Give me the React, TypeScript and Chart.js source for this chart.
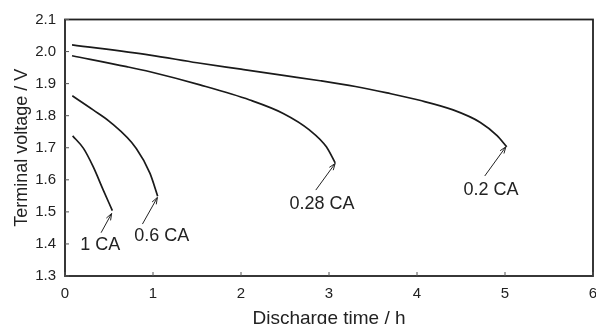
import React, { useEffect, useRef } from "react";
import { Chart, registerables } from "chart.js";

Chart.register(...registerables);

// Discharge curves: time (h) and terminal voltage (V)
const t1CA = [0.087, 0.21, 0.32, 0.435, 0.538];
const v1CA = [1.737, 1.698, 1.641, 1.568, 1.504];

const t06CA = [0.083, 0.32, 0.51, 0.81, 0.966, 1.053];
const v06CA = [1.862, 1.818, 1.781, 1.698, 1.62, 1.549];

const t028CA = [0.08, 0.7, 0.966, 1.534, 2.1, 2.48, 2.78, 2.97, 3.07];
const v028CA = [1.987, 1.953, 1.937, 1.896, 1.849, 1.807, 1.755, 1.703, 1.653];

const t02CA = [0.08, 0.966, 1.5, 2.0, 2.5, 2.9, 3.3, 3.66, 4.03, 4.41, 4.72, 4.91, 5.02];
const v02CA = [2.021, 1.989, 1.965, 1.945, 1.925, 1.909, 1.891, 1.871, 1.848, 1.818, 1.779, 1.738, 1.703];

const seriesLabels = ["1 CA", "0.6 CA", "0.28 CA", "0.2 CA"];

// Annotation label centres and arrow start/end (data units)
const labelT = [0.4, 1.1, 2.92, 4.84];
const labelV = [1.4, 1.428, 1.529, 1.573];
const arrowFromT = [0.41, 0.88, 2.85, 4.77];
const arrowFromV = [1.435, 1.462, 1.568, 1.612];
const arrowToT = [0.53, 1.05, 3.07, 5.01];
const arrowToV = [1.495, 1.545, 1.651, 1.703];

const xTicks = [0, 1, 2, 3, 4, 5, 6];
const yTicks = [1.3, 1.4, 1.5, 1.6, 1.7, 1.8, 1.9, 2.0, 2.1];

const FONT = "'Liberation Sans', Arial, sans-serif";
const INK = "#222";

const zip = (xs: number[], ys: number[]) => xs.map((x, i) => ({ x, y: ys[i] }));

const framePlugin = {
  id: "frameAndAnnotations",
  afterDatasetsDraw(chart: any) {
    const { ctx, chartArea: a, scales } = chart;
    const xs = scales.x;
    const ys = scales.y;
    ctx.save();
    // frame
    ctx.strokeStyle = INK;
    ctx.lineWidth = 1.8;
    ctx.strokeRect(a.left, a.top, a.right - a.left, a.bottom - a.top);
    // inward ticks
    ctx.lineWidth = 1;
    ctx.strokeStyle = "#555";
    xTicks.forEach((v) => {
      const px = xs.getPixelForValue(v);
      ctx.beginPath();
      ctx.moveTo(px, a.bottom);
      ctx.lineTo(px, a.bottom - 4);
      ctx.stroke();
    });
    yTicks.forEach((v) => {
      const py = ys.getPixelForValue(v);
      ctx.beginPath();
      ctx.moveTo(a.left, py);
      ctx.lineTo(a.left + 4, py);
      ctx.stroke();
    });
    // arrows + labels
    ctx.strokeStyle = INK;
    ctx.fillStyle = INK;
    ctx.font = "18px " + FONT;
    ctx.textAlign = "center";
    ctx.textBaseline = "alphabetic";
    seriesLabels.forEach((lab, i) => {
      const x0 = xs.getPixelForValue(arrowFromT[i]);
      const y0 = ys.getPixelForValue(arrowFromV[i]);
      const x1 = xs.getPixelForValue(arrowToT[i]);
      const y1 = ys.getPixelForValue(arrowToV[i]);
      ctx.lineWidth = 1;
      ctx.beginPath();
      ctx.moveTo(x0, y0);
      ctx.lineTo(x1, y1);
      ctx.stroke();
      const ang = Math.atan2(y1 - y0, x1 - x0);
      const hl = 7;
      const hw = 0.35;
      ctx.beginPath();
      ctx.moveTo(x1 - hl * Math.cos(ang - hw), y1 - hl * Math.sin(ang - hw));
      ctx.lineTo(x1, y1);
      ctx.lineTo(x1 - hl * Math.cos(ang + hw), y1 - hl * Math.sin(ang + hw));
      ctx.stroke();
      const lx = xs.getPixelForValue(labelT[i]);
      const ly = ys.getPixelForValue(labelV[i]);
      ctx.fillText(lab, lx, ly + 6.4);
    });
    ctx.restore();
  },
};

export default function App() {
  const ref = useRef<HTMLCanvasElement | null>(null);
  useEffect(() => {
    if (!ref.current) return;
    const lineStyle = {
      borderColor: "#1a1a1a",
      borderWidth: 1.7,
      pointRadius: 0,
      tension: 0.4,
      cubicInterpolationMode: "monotone" as const,
      fill: false,
    };
    const chart = new Chart(ref.current, {
      type: "line",
      data: {
        datasets: [
          { label: seriesLabels[0], data: zip(t1CA, v1CA), ...lineStyle },
          { label: seriesLabels[1], data: zip(t06CA, v06CA), ...lineStyle },
          { label: seriesLabels[2], data: zip(t028CA, v028CA), ...lineStyle },
          { label: seriesLabels[3], data: zip(t02CA, v02CA), ...lineStyle },
        ],
      },
      options: {
        animation: false,
        responsive: false,
        events: [],
        layout: { padding: { left: 0, right: 37, top: 19.5, bottom: 0 } },
        plugins: { legend: { display: false }, tooltip: { enabled: false } },
        scales: {
          x: {
            type: "linear",
            min: 0,
            max: 6,
            grid: { display: false, drawTicks: false },
            border: { display: false },
            ticks: {
              stepSize: 1,
              padding: 9,
              color: INK,
              font: { family: FONT, size: 15 },
            },
            title: {
              display: true,
              text: "Discharge time / h",
              color: INK,
              font: { family: FONT, size: 19 },
              padding: { top: 0, bottom: 10 },
            },
            afterFit(scale: any) {
              scale.height = 64;
            },
          },
          y: {
            type: "linear",
            min: 1.3,
            max: 2.1,
            grid: { display: false, drawTicks: false },
            border: { display: false },
            ticks: {
              stepSize: 0.1,
              padding: 9,
              color: INK,
              font: { family: FONT, size: 15 },
              callback: (v: any) => Number(v).toFixed(1),
            },
            title: {
              display: true,
              text: "Terminal voltage / V",
              color: INK,
              font: { family: FONT, size: 18 },
              padding: { top: 11, bottom: 0 },
            },
            afterFit(scale: any) {
              scale.width = 65;
            },
          },
        },
      },
      plugins: [framePlugin],
    });
    return () => chart.destroy();
  }, []);
  return (
    <div
      style={{
        position: "fixed",
        left: 0,
        top: 0,
        width: 596,
        height: 324,
        overflow: "hidden",
        background: "#fff",
      }}
    >
      <canvas ref={ref} width={630} height={340} style={{ display: "block" }} />
    </div>
  );
}
